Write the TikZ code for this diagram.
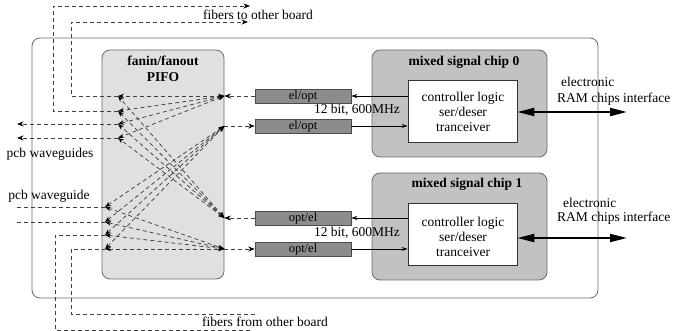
\documentclass[tikz,border=0pt]{standalone}
\usepackage{fontspec}
\setmainfont{Liberation Serif}
\usetikzlibrary{arrows.meta}
\definecolor{pifofill}{gray}{0.88}
\definecolor{chipfill}{gray}{0.76}
\definecolor{convfill}{gray}{0.55}
\definecolor{edgec}{gray}{0.42}
\definecolor{dlinec}{gray}{0.25}
\begin{document}
\begin{tikzpicture}[x=1pt,y=-1pt,
  txt/.style={font=\fontsize{13.5}{15}\selectfont, inner sep=0pt},
  boldtxt/.style={font=\fontsize{13.5}{16}\selectfont\bfseries, inner sep=0pt, align=center},
  rbox/.style={draw=edgec, line width=0.8pt, rounded corners=8pt, inner sep=0pt},
  conv/.style={draw=black!70, fill=convfill, line width=0.6pt, minimum width=96pt, minimum height=14pt, inner sep=0pt, font=\fontsize{12.5}{13}\selectfont},
  ctl/.style={draw=black!80, fill=white, line width=0.7pt, minimum width=109pt, minimum height=62pt, inner sep=0pt},
  dl/.style={draw=dlinec, line width=0.75pt, dash pattern=on 4pt off 3pt},
  tip/.style={-{Stealth[length=6.5pt,width=5pt,color=black]}},
  bitip/.style={{Stealth[length=6pt,width=4.5pt,color=black]}-{Stealth[length=6pt,width=4.5pt,color=black]}},
  thin/.style={draw=black, line width=0.6pt, -{Stealth[length=6pt,width=4pt]}},
  thick/.style={draw=black, line width=2pt, {Triangle[length=17pt,width=8pt]}-{Triangle[length=17pt,width=8pt]}}
]
\useasboundingbox (0,0) rectangle (678,331);

% board
\node[rbox, minimum width=566pt, minimum height=260pt] (board) at (315,168) {};

% PIFO
\node[rbox, fill=pifofill, minimum width=122pt, minimum height=229pt] (pifo) at (163,164.5) {};
\node[boldtxt] (pifot) at (163,69) {fanin/fanout\\PIFO};

% chips
\node[rbox, fill=chipfill, minimum width=175pt, minimum height=107pt] (chip0) at (459.5,103.5) {};
\node[rbox, fill=chipfill, minimum width=175pt, minimum height=107pt] (chip1) at (459.5,226.5) {};
\node[boldtxt] (chip0t) at (464,62) {mixed signal chip 0};
\node[boldtxt] (chip1t) at (467,184) {mixed signal chip 1};
\node[ctl] (ctl0) at (462.5,111) {};
\node[ctl] (ctl1) at (462.5,234.5) {};
\node[txt, align=center] (ctl0t) at (463,111.5) {controller logic\\ser/deser\\tranceiver};
\node[txt, align=center] (ctl1t) at (463,237) {controller logic\\ser/deser\\tranceiver};

% converters
\node[conv] (eo1) at (303,96) {el/opt};
\node[conv] (eo2) at (303,126) {el/opt};
\node[conv] (oe1) at (303,218) {opt/el};
\node[conv] (oe2) at (303,249) {opt/el};
\node[txt] (bits0) at (357,110) {12 bit, 600MHz};
\node[txt] (bits1) at (357,233) {12 bit, 600MHz};

% thin arrows chip <-> converters
\draw[thin] (ctl0.west |- eo1.east) -- (eo1.east);
\draw[thin] (eo2.east) -- (ctl0.west |- eo2.east);
\draw[thin] (ctl1.west |- oe1.east) -- (oe1.east);
\draw[thin] (oe2.east) -- (ctl1.west |- oe2.east);

% thick RAM interface arrows
\coordinate (ram0) at (627,112);
\coordinate (ram1) at (627,238);
\draw[thick] (ctl0.east |- ram0) -- (ram0);
\draw[thick] (ctl1.east |- ram1) -- (ram1);
\node[txt, anchor=west] (el0) at (561,82) {electronic};
\node[txt, anchor=west] (ramt0) at (557,99) {RAM chips interface};
\node[txt, anchor=west] (el1) at (563,203) {electronic};
\node[txt, anchor=west] (ramt1) at (557,218) {RAM chips interface};

% PIFO ports
\coordinate (T0) at (pifo.east |- eo1.west);
\coordinate (R0) at (pifo.east |- eo2.west);
\coordinate (T1) at (pifo.east |- oe1.west);
\coordinate (R1) at (pifo.east |- oe2.west);
\coordinate (O1) at (118,96);
\coordinate (O2) at (118,111);
\coordinate (O3) at (118,124);
\coordinate (O4) at (118,138);
\coordinate (I1) at (105,207);
\coordinate (I2) at (105,222);
\coordinate (I3) at (105,235);
\coordinate (I4) at (105,249);

% converter <-> PIFO
\draw[dl, tip] (eo1.west) -- (T0);
\draw[dl, tip] (R0) -- (eo2.west);
\draw[dl, tip] (oe1.west) -- (T1);
\draw[dl, tip] (R1) -- (oe2.west);

% fan-out / fan-in inside PIFO
\foreach \o in {O1,O2,O3,O4} {
  \draw[dl, bitip] (T0) -- (\o);
  \draw[dl, bitip] (T1) -- (\o);
}
\foreach \i in {I1,I2,I3,I4} {
  \draw[dl, bitip] (\i) -- (R0);
  \draw[dl, bitip] (\i) -- (R1);
}

% external fibers / waveguides (outputs)
\coordinate (f1) at (248,22);
\coordinate (f2) at (250,6);
\coordinate (w1) at (17,124);
\coordinate (w2) at (17,138);
\draw[dl, tip] (O1) -- (71,96) -- (71,22) -- (f1);
\draw[dl, tip] (O2) -- (53,111) -- (53,6) -- (f2);
\draw[dl, tip] (O3) -- (w1);
\draw[dl, tip] (O4) -- (w2);
\node[txt] (fto) at (258,15) {fibers to other board};
\node[txt] (pcbo) at (50,154) {pcb waveguides};

% external inputs
\coordinate (v1) at (17,207);
\coordinate (v2) at (17,222);
\coordinate (g1) at (250,330);
\coordinate (g2) at (255,314);
\draw[dl] (v1) -- (I1);
\draw[dl] (v2) -- (I2);
\draw[dl] (g1) -- (55,330) -- (55,235) -- (I3);
\draw[dl] (g2) -- (71,314) -- (71,249) -- (I4);
\node[txt] (pcbi) at (49,196) {pcb waveguide};
\node[txt] (ffrom) at (265,322) {fibers from other board};
\end{tikzpicture}
\end{document}
